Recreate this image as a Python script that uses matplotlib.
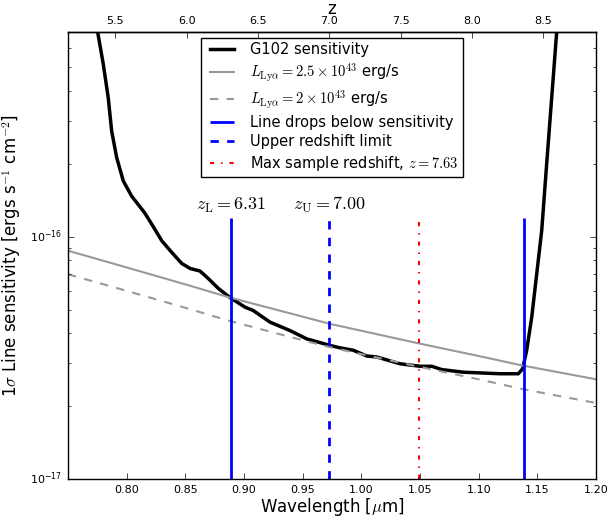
import matplotlib
matplotlib.use('Agg')
import matplotlib.pyplot as plt
import numpy as np

plt.style.use('classic')

# G102 1-sigma line sensitivity (wavelength in micron, flux in 1e-16)
wave_g102 = [0.7745, 0.7756, 0.7801, 0.7843, 0.7872, 0.7915, 0.7971, 0.8043, 0.8156,
             0.8227, 0.8299, 0.8384, 0.8469, 0.8540, 0.8625, 0.8696, 0.8781, 0.8881,
             0.9009, 0.9079, 0.9222, 0.9392, 0.9534, 0.9733, 0.9818, 0.9932, 1.0046,
             1.0131, 1.0330, 1.0500, 1.0600, 1.0685, 1.0869, 1.1182, 1.1338, 1.1375,
             1.1409, 1.1452, 1.1537, 1.1579, 1.1622, 1.1665, 1.1680]
sens_g102 = [7.6, 6.85, 5.14, 3.74, 2.73, 2.12, 1.70, 1.47, 1.25,
             1.10, 0.963, 0.862, 0.776, 0.740, 0.722, 0.672, 0.612, 0.561,
             0.512, 0.496, 0.444, 0.410, 0.379, 0.356, 0.348, 0.340, 0.322,
             0.319, 0.299, 0.292, 0.292, 0.283, 0.276, 0.272, 0.272, 0.2855,
             0.340, 0.466, 1.06, 1.99, 3.74, 7.04, 7.6]

# Lya line flux for the two luminosities (1e-16 erg/s/cm2)
wave_lya = [0.75, 0.80, 0.85, 0.888, 0.95, 0.9733, 1.05, 1.10, 1.1375, 1.20]
flux_25e43 = [0.876, 0.747, 0.636, 0.561, 0.468, 0.437, 0.362, 0.322, 0.294, 0.258]
flux_2e43 = [0.700, 0.598, 0.509, 0.449, 0.374, 0.350, 0.290, 0.258, 0.235, 0.206]

# redshift markers
z_low = 6.31
z_up = 7.00
z_max = 7.63
wave_drop = [0.8889, 1.1385]
line_top = 1.19e-16

z_ticks = [5.5, 6.0, 6.5, 7.0, 7.5, 8.0, 8.5]
wave_ticks = [0.80, 0.85, 0.90, 0.95, 1.00, 1.05, 1.10, 1.15, 1.20]
lya_rest = 0.1216


def lam2z(lam):
    return np.asarray(lam) / lya_rest - 1.0


def z2lam(z):
    return (np.asarray(z) + 1.0) * lya_rest


plt.rcParams['mathtext.fontset'] = 'cm'

fig = plt.figure(figsize=(6.1, 5.2), dpi=100, facecolor='white')
ax = fig.add_axes([0.1115, 0.0788, 0.8656, 0.8596])

ax.plot(wave_g102, np.array(sens_g102) * 1e-16, color='black', lw=2.5,
        label='G102 sensitivity')
ax.plot(wave_lya, np.array(flux_25e43) * 1e-16, color='0.6', lw=1.5, ls='-',
        label=r'$L_{\rm Ly\alpha} = 2.5\times10^{43}$ erg/s')
ax.plot(wave_lya, np.array(flux_2e43) * 1e-16, color='0.6', lw=1.5, ls='--',
        label=r'$L_{\rm Ly\alpha} = 2\times10^{43}$ erg/s')

ax.vlines(wave_drop, 1e-17, line_top, color='blue', lw=2, linestyles='-',
          label='Line drops below sensitivity')
ax.vlines([z2lam(z_up)], 1e-17, line_top, color='blue', lw=2, linestyles='--',
          label='Upper redshift limit')
ax.vlines([z2lam(z_max)], 1e-17, line_top, color='red', lw=1.5, linestyles='-.',
          label=r'Max sample redshift, $z = %.2f$' % z_max)

ax.text(z2lam(z_low), 1.23e-16, r'$z_{\rm L} = %.2f$' % z_low, ha='center',
        va='bottom', fontsize=13)
ax.text(z2lam(z_up), 1.23e-16, r'$z_{\rm U} = %.2f$' % z_up, ha='center',
        va='bottom', fontsize=13)

ax.set_yscale('log')
ax.set_xlim(0.75, 1.20)
ax.set_ylim(1e-17, 7e-16)
ax.set_xticks(wave_ticks)
ax.set_xticklabels(['%.2f' % t for t in wave_ticks])
ax.tick_params(axis='x', which='both', top=False, labelsize=8)
ax.tick_params(axis='y', which='both', labelsize=8)
ax.set_xlabel(r'Wavelength [$\mu$m]', fontsize=12, labelpad=1)
ax.set_ylabel(r'1$\sigma$ Line sensitivity [ergs s$^{-1}$ cm$^{-2}$]', fontsize=12)

sec = ax.secondary_xaxis('top', functions=(lam2z, z2lam))
sec.set_xticks(z_ticks)
sec.set_xticklabels(['%.1f' % t for t in z_ticks])
sec.tick_params(direction='in', labelsize=8, length=4)
sec.set_xlabel('z', fontsize=12, labelpad=2)

leg = ax.legend(loc='upper center', fontsize=10.5, frameon=True, fancybox=False,
                numpoints=2, borderaxespad=0.4, handlelength=2.2,
                labelspacing=0.3, borderpad=0.3)
leg.get_frame().set_edgecolor('black')

fig.savefig('out.png', dpi=100, facecolor='white')
